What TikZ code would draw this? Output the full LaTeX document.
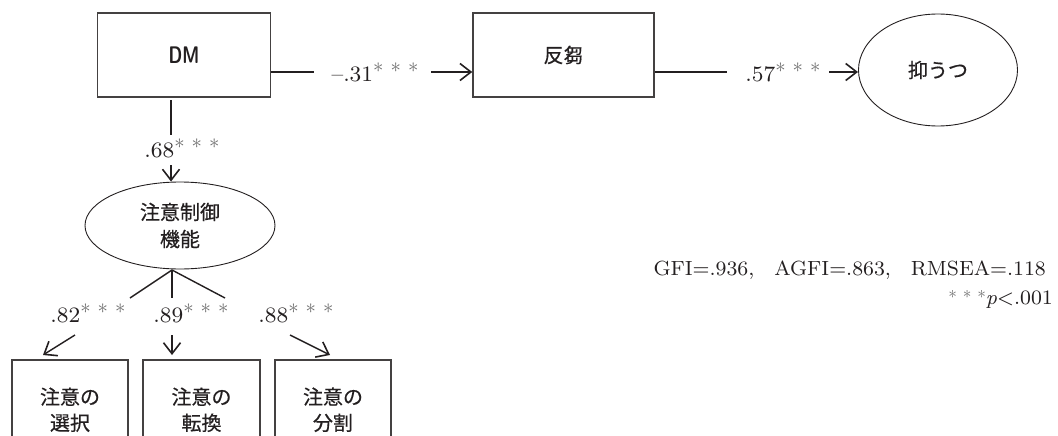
\documentclass[tikz,border=0pt]{standalone}
\usepackage{fontspec}
\usetikzlibrary{shapes.geometric,arrows.meta}
\newfontfamily\jp{Noto Sans CJK JP}[FakeBold=0.5]
\newfontfamily\numfont{lmroman8-regular.otf}[ItalicFont=lmroman8-italic.otf, Ligatures=TeX]
\definecolor{ink}{HTML}{231F20}
\definecolor{star}{HTML}{6E6E6E}
\newcommand{\sig}{\raisebox{9pt}{\textcolor{star}{\fontsize{20}{20}\selectfont$*\hspace{2.5pt}*\hspace{2.5pt}*$}}}
\newcommand{\sigsmall}{\raisebox{6pt}{\textcolor{star}{\fontsize{17}{17}\selectfont$*\hspace{2pt}*\hspace{2pt}*$}}}
\tikzset{
  box/.style={draw=ink!85, line width=1.5pt, rectangle, font=\jp\fontsize{20}{26}\selectfont, text=ink, align=center},
  oval/.style={draw=ink, line width=0.9pt, ellipse, font=\jp\fontsize{20}{27}\selectfont, text=ink, align=center, inner sep=0pt},
  coef/.style={font=\numfont\fontsize{22}{24}\selectfont, text=ink, inner sep=0pt},
  conn/.style={draw=ink, line width=1.4pt},
  arr/.style={conn, -{Straight Barb[length=11pt,width=17pt,line width=1.6pt]}},
  fit/.style={font=\numfont\fontsize{20.5}{24}\selectfont, text=ink, inner sep=0pt}
}
\begin{document}
\begin{tikzpicture}[x=1pt,y=-1pt]
\useasboundingbox (0,0) rectangle (1058,436);
\clip (0,0) rectangle (1058,436);
% nodes
\node[box, minimum width=173pt, minimum height=84pt] (dm) at (184,55)
  {\raisebox{-5pt}{\sffamily\bfseries\scalebox{0.72}[1]{\fontsize{24}{24}\selectfont DM}}};
\node[box, minimum width=181pt, minimum height=84pt] (rum) at (563.5,55)
  {\raisebox{-5pt}{反芻}};
\node[oval, minimum width=159pt, minimum height=112pt] (dep) at (938,70) {\raisebox{-5pt}{抑うつ}};
\node[oval, minimum width=190pt, minimum height=87pt] (att) at (180,225.5) {注意制御\\機能};
\node[box, minimum width=116pt, minimum height=100pt, anchor=north] (b1) at (70,359) {注意の\\選択};
\node[box, minimum width=117pt, minimum height=100pt, anchor=north] (b2) at (201.5,359) {注意の\\転換};
\node[box, minimum width=116pt, minimum height=100pt, anchor=north] (b3) at (333,359) {注意の\\分割};
% coefficient labels
\node[coef] (l31) at (375,72) {\textendash.31\sig};
\node[coef] (l57) at (783,72) {.57\sig};
\node[coef] (l68) at (182,148) {.68\sig};
\node[coef] (l82) at (88,313) {.82\sig};
\node[coef] (l89) at (191,313) {.89\sig};
\node[coef] (l88) at (296,313) {.88\sig};
% connector segment end points
\coordinate (a1) at (314,72);
\coordinate (a2) at (431,72);
\coordinate (c1) at (727,72);
\coordinate (c2) at (829,72);
\coordinate (d0) at (171,100);
\coordinate (d1) at (171,135);
\coordinate (d2) at (171,165);
\coordinate (apex) at (172,270);
\coordinate (e1) at (130,298);
\coordinate (e2) at (172,298);
\coordinate (e3) at (225,298);
\coordinate (f1) at (75,335);
\coordinate (f2) at (172,335);
\coordinate (f3) at (290,335);
% connectors
\draw[conn] (dm.east |- a1) -- (a1);
\draw[arr] (a2) -- (rum.west |- a2);
\draw[conn] (rum.east |- c1) -- (c1);
\draw[arr] (c2) -- (858,72);
\draw[conn] (d0) -- (d1);
\draw[arr] (d2) -- (d2 |- att.north);
\draw[conn] (apex) -- (e1);
\draw[conn] (apex) -- (e2);
\draw[conn] (apex) -- (e3);
\draw[arr] (f1) -- (43,355);
\draw[arr] (f2) -- (172,355);
\draw[arr] (f3) -- (330,355);
% fit statistics
\node[fit, anchor=east] (gfi) at (1046,270) {GFI=.936,\hspace{20pt}AGFI=.863,\hspace{20pt}RMSEA=.118};
\node[fit, anchor=east] (pv) at (1053,299) {\sigsmall\textit{p}<.001};
\end{tikzpicture}
\end{document}
